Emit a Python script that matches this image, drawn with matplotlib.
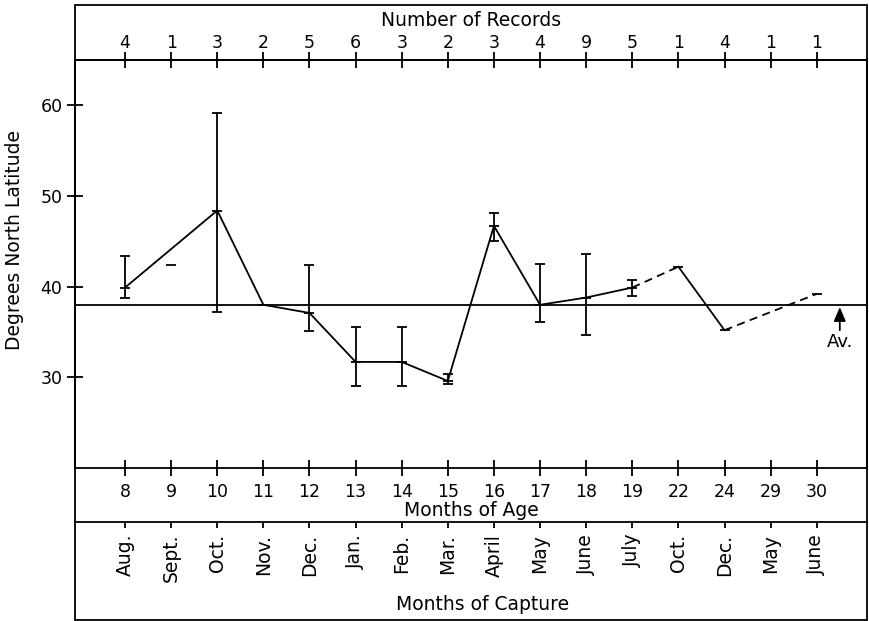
import numpy as np
import matplotlib
matplotlib.use("Agg")
import matplotlib.pyplot as plt
from matplotlib.patches import Rectangle

# --- data ---
ages = ["8", "9", "10", "11", "12", "13", "14", "15", "16", "17", "18", "19", "22", "24", "29", "30"]
capture_months = ["Aug.", "Sept.", "Oct.", "Nov.", "Dec.", "Jan.", "Feb.", "Mar.", "April",
                  "May", "June", "July", "Oct.", "Dec.", "May", "June"]
records = [4, 1, 3, 2, 5, 6, 3, 2, 3, 4, 9, 5, 1, 4, 1, 1]
nan = np.nan
lat_mean = [39.9, 42.4, 48.4, 38.0, 37.1, 31.7, 31.7, 29.6, 46.7, 38.0, 38.8, 39.9, 42.2, 35.2, nan, 39.2]
lat_hi = [43.4, nan, 59.2, nan, 42.4, 35.5, 35.5, 30.4, 48.1, 42.5, 43.6, 40.7, nan, nan, nan, nan]
lat_lo = [38.7, nan, 37.2, nan, 35.1, 29.0, 29.0, 29.3, 45.0, 36.1, 34.7, 39.0, nan, nan, nan, nan]
lat_average = 38.0

# which points are joined, and how
solid_runs = [[0, 2, 3, 4, 5, 6, 7, 8, 9, 10, 11], [12, 13]]
dashed_runs = [[11, 12], [13, 15]]

# --- layout in pixels ---
W, H = 869, 621
plt.rcParams["font.family"] = "DejaVu Sans"
plt.rcParams["font.size"] = 12.5
title_size = 13.5


def rect(x0, y0, x1, y1):
    return [x0 / W, 1 - y1 / H, (x1 - x0) / W, (y1 - y0) / H]


fig = plt.figure(figsize=(W / 100, H / 100), dpi=100)
ax = fig.add_axes(rect(75, 60, 867, 468))

x = np.arange(len(ages))
mean = np.array(lat_mean)
hi = np.array(lat_hi)
lo = np.array(lat_lo)

lw = 1.3
for run in solid_runs:
    ax.plot(x[run], mean[run], color="black", lw=lw)
for run in dashed_runs:
    ax.plot(x[run], mean[run], color="black", lw=lw, linestyle=(0, (4.5, 3)))

has_err = ~np.isnan(hi)
ax.errorbar(x[has_err], mean[has_err],
            yerr=[mean[has_err] - lo[has_err], hi[has_err] - mean[has_err]],
            fmt="none", ecolor="black", elinewidth=lw, capsize=3.4, capthick=lw)
ok = ~np.isnan(mean)
ax.plot(x[ok], mean[ok], linestyle="none", marker="_", markersize=6.8,
        markeredgewidth=lw, color="black")

ax.axhline(lat_average, color="black", lw=lw)
ax.annotate("", xy=(15.5, 37.75), xytext=(15.5, 35.2),
            arrowprops=dict(arrowstyle="-|>,head_length=0.7,head_width=0.3",
                            color="black", lw=lw, mutation_scale=12, shrinkA=0, shrinkB=0))
ax.text(15.5, 33.9, "Av.", ha="center", va="center", fontsize=13)

ax.set_xlim(-1.085, 16.09)
ax.set_ylim(20, 65)
for sp in ax.spines.values():
    sp.set_linewidth(lw)

ax.set_yticks([30, 40, 50, 60])
ax.tick_params(axis="y", direction="inout", length=12, width=lw, pad=3)
ax.set_xticks(x, labels=ages)
ax.tick_params(axis="x", direction="inout", length=12, width=lw, pad=5)

# records along the top edge
top = ax.secondary_xaxis("top")
top.set_xticks(x, labels=[str(r) for r in records])
top.tick_params(direction="inout", length=11, width=lw, pad=0.5)
top.spines["top"].set_linewidth(lw)

# months of capture along a lower band
cap = ax.secondary_xaxis(-54 / 408)
cap.set_xticks(x, labels=capture_months, rotation=90, fontsize=13.5)
cap.tick_params(direction="out", length=4.5, width=lw, pad=4)
cap.spines["bottom"].set_linewidth(lw)

# outer frame
fig.add_artist(Rectangle((75 / W, 1 - 620 / H), 792 / W, 615 / H, transform=fig.transFigure,
                         fill=False, lw=lw, edgecolor="black"))

fig.text(471 / W, 1 - 20 / H, "Number of Records", ha="center", va="center", fontsize=title_size)
fig.text(471 / W, 1 - 510 / H, "Months of Age", ha="center", va="center", fontsize=title_size)
fig.text(483 / W, 1 - 605 / H, "Months of Capture", ha="center", va="center", fontsize=title_size)
fig.text(15 / W, 1 - 240 / H, "Degrees North Latitude", rotation=90, ha="center", va="center",
         fontsize=title_size)

fig.savefig("out.png", dpi=100)
